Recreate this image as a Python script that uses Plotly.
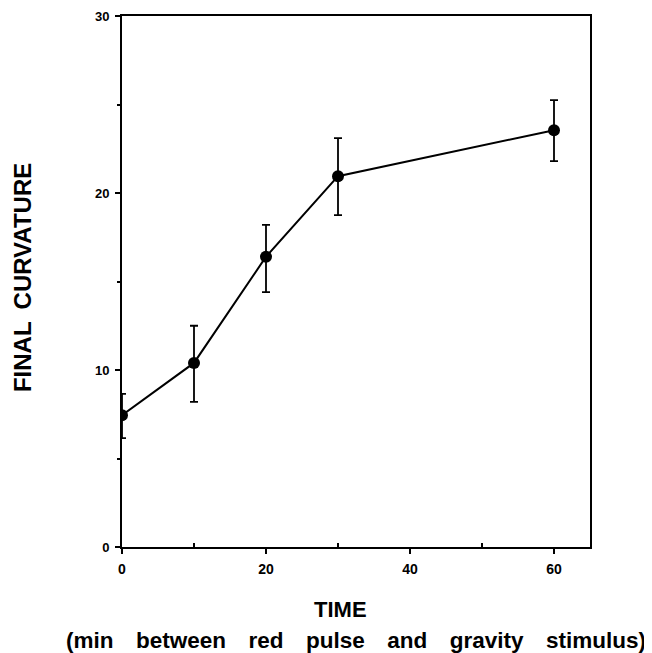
import plotly.graph_objects as go

time_min = [0, 10, 20, 30, 60]
curvature = [7.45, 10.4, 16.4, 20.95, 23.55]
err_plus = [1.2, 2.1, 1.8, 2.15, 1.7]
err_minus = [1.3, 2.2, 2.0, 2.2, 1.75]

x_ticks = [0, 20, 40, 60]
y_ticks = [0, 10, 20, 30]
x_minor = [10, 30, 50]
y_minor = [5, 15, 25]

font_family = "Liberation Sans, Arial, Helvetica, sans-serif"

fig = go.Figure()
fig.add_trace(go.Scatter(
    x=time_min, y=curvature, mode="lines+markers",
    line=dict(color="black", width=2),
    marker=dict(color="black", size=12),
    error_y=dict(type="data", symmetric=False, array=err_plus, arrayminus=err_minus,
                 color="black", thickness=1.8, width=4),
    showlegend=False,
))

fig.update_layout(
    width=652, height=653,
    margin=dict(l=114, r=70, t=8, b=114),
    paper_bgcolor="white", plot_bgcolor="white",
    font=dict(family=font_family, color="black"),
    xaxis=dict(range=[0, 65], tickvals=x_ticks, ticktext=[f"<b>{v}</b>" for v in x_ticks],
               showgrid=False, zeroline=False, showline=True, linecolor="black",
               linewidth=2, mirror=True, ticks="outside", ticklen=5, tickwidth=1.5,
               tickcolor="black", tickfont=dict(size=14, family=font_family),
               ticklabelstandoff=3, ticklabeloverflow="allow", automargin=False,
               minor=dict(tickvals=x_minor, ticks="inside", ticklen=4, tickcolor="black")),
    yaxis=dict(range=[0, 30], tickvals=y_ticks, ticktext=[f"<b>{v}</b>" for v in y_ticks],
               showgrid=False, zeroline=False, showline=True, linecolor="black",
               linewidth=2, mirror=True, ticks="outside", ticklen=5, tickwidth=1.5,
               tickcolor="black", tickfont=dict(size=13, family=font_family),
               ticklabelstandoff=3, ticklabeloverflow="allow", automargin=False,
               minor=dict(tickvals=y_minor, ticks="outside", ticklen=3, tickcolor="black")),
)

gap = "\u2002\u2002"
fig.add_annotation(text="<b>FINAL\u2002CURVATURE</b>", xref="paper", yref="paper",
                   x=-0.214, y=0.508, textangle=-90, showarrow=False,
                   font=dict(size=24, family=font_family), xanchor="center", yanchor="middle")
fig.add_annotation(text="<b>TIME</b>", xref="paper", yref="paper",
                   x=0.466, y=-0.118, showarrow=False,
                   font=dict(size=22, family=font_family), xanchor="center", yanchor="middle")
fig.add_annotation(text=f"<b>(min{gap}between{gap}red{gap}pulse{gap}and{gap}gravity{gap}stimulus)</b>",
                   xref="paper", yref="paper",
                   x=0.5, y=-0.177, showarrow=False,
                   font=dict(size=22.5, family=font_family), xanchor="center", yanchor="middle")

fig.write_html("out.html")
